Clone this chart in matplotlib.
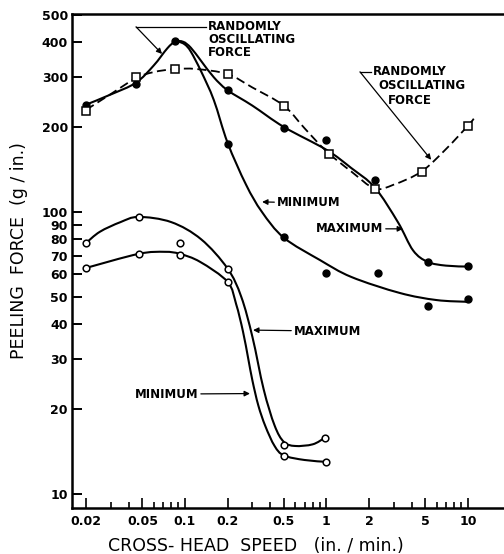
import numpy as np
import matplotlib
matplotlib.use("Agg")
import matplotlib.pyplot as plt
from matplotlib.path import Path
from matplotlib.patches import PathPatch
from matplotlib.ticker import FixedLocator, FixedFormatter, NullFormatter, NullLocator

# measured points: cross-head speed (in./min.) vs peeling force (g/in.)
filled_max_x = [0.02, 0.045, 0.085, 0.2, 0.5, 1.0, 2.2, 5.2, 10]
filled_max_y = [240, 284, 404, 271, 199, 180, 130, 66.5, 64.4]
filled_min_x = [0.2, 0.5, 1.0, 2.3, 5.2, 10]
filled_min_y = [174, 81.5, 60.8, 60.5, 46.4, 49.1]
square_x = [0.02, 0.045, 0.085, 0.2, 0.5, 1.04, 2.2, 4.7, 10]
square_y = [228, 301, 321, 308, 238, 161, 121, 139, 202]
open_max_x = [0.02, 0.047, 0.092, 0.2, 0.5, 0.97]
open_max_y = [77.6, 96, 77.6, 62.8, 14.9, 15.8]
open_min_x = [0.02, 0.047, 0.092, 0.2, 0.5, 1.0]
open_min_y = [63.3, 71, 70.4, 56.5, 13.6, 13.0]

# hand-drawn fitted curves
fit_max_x = [0.02, 0.03, 0.045, 0.06, 0.075, 0.085, 0.097, 0.11, 0.13, 0.16, 0.2,
             0.3, 0.5, 1.0, 1.5, 2.2, 3.2, 4.1, 5.2, 7.0, 10]
fit_max_y = [240, 261, 287, 330, 380, 401, 401, 382, 343, 300, 270,
             238, 200, 166, 143, 122, 92, 73, 66.5, 64.5, 64]
fit_min_x = [0.09, 0.1, 0.11, 0.13, 0.16, 0.2, 0.27, 0.35, 0.5, 0.9,
             1.5, 3.3, 6.0, 10]
fit_min_y = [402, 392, 370, 315, 249, 176, 125, 100, 81, 67.5,
             58.8, 51.6, 48.7, 48]
fit_sq_x = [0.02, 0.03, 0.045, 0.06, 0.085, 0.12, 0.2, 0.3, 0.5, 0.7, 1.0,
            1.5, 2.2, 3.0, 4.7, 7.0, 10, 11]
fit_sq_y = [230, 262, 298, 313, 321, 321, 308, 276, 238, 198, 164,
            139, 121, 125, 139, 167, 202, 214]
fit_omax_x = [0.02, 0.025, 0.035, 0.047, 0.08, 0.13, 0.2, 0.25, 0.3, 0.36,
              0.43, 0.5, 0.6, 0.8, 0.97]
fit_omax_y = [77.6, 85, 92, 96, 92, 80, 63, 50, 36, 23.5,
              17.5, 15.3, 14.8, 15.0, 15.8]
fit_omin_x = [0.02, 0.047, 0.072, 0.092, 0.128, 0.2, 0.23, 0.257, 0.28, 0.3,
              0.33, 0.37, 0.43, 0.5, 0.7, 1.0]
fit_omin_y = [63.3, 71, 72.2, 71, 66.5, 56.5, 47.1, 37.7, 30.2, 25.2,
              20.6, 17.4, 14.8, 13.7, 13.2, 13.0]

x_ticks = [0.02, 0.05, 0.1, 0.2, 0.5, 1, 2, 5, 10]
x_tick_labels = ["0.02", "0.05", "0.1", "0.2", "0.5", "1", "2", "5", "10"]
x_minor = [0.03, 0.04, 0.06, 0.07, 0.08, 0.09, 0.3, 0.4, 0.6, 0.7, 0.8, 0.9,
           3, 4, 6, 7, 8, 9]
y_ticks = [10, 20, 30, 40, 50, 60, 70, 80, 90, 100, 200, 300, 400, 500]


def smooth_curve(ax, xs, ys, **kw):
    # draw the traced curve as a smooth bezier through its points (log space)
    p = np.column_stack([np.log10(xs), np.log10(ys)])
    n = len(p)
    verts = [p[0]]
    codes = [Path.MOVETO]
    for i in range(n - 1):
        a = p[max(i - 1, 0)]
        d = p[min(i + 2, n - 1)]
        verts += [p[i] + (p[i + 1] - a) / 6, p[i + 1] - (d - p[i]) / 6, p[i + 1]]
        codes += [Path.CURVE4] * 3
    verts = 10 ** np.array(verts)
    ax.add_patch(PathPatch(Path(verts, codes), fill=False, **kw))


plt.rcParams["font.family"] = "DejaVu Sans"

fig = plt.figure(figsize=(5.04, 5.54), dpi=100)
ax = fig.add_axes([72 / 504, 46 / 554, 432 / 504, 494 / 554])
ax.set_xscale("log")
ax.set_yscale("log")
ax.set_xlim(0.0159, 18.0)
ax.set_ylim(8.92, 503)

k = "black"
smooth_curve(ax, fit_max_x, fit_max_y, color=k, lw=1.5)
smooth_curve(ax, fit_min_x, fit_min_y, color=k, lw=1.5)
smooth_curve(ax, fit_sq_x, fit_sq_y, color=k, lw=1.3, ls=(0, (5, 2.5)))
smooth_curve(ax, fit_omax_x, fit_omax_y, color=k, lw=1.5)
smooth_curve(ax, fit_omin_x, fit_omin_y, color=k, lw=1.5)

ax.plot(filled_max_x, filled_max_y, "o", color=k, ms=5, zorder=5)
ax.plot(filled_min_x, filled_min_y, "o", color=k, ms=5, zorder=5)
ax.plot(square_x, square_y, "s", mfc="white", mec=k, mew=1.1, ms=5.5, zorder=6)
ax.plot(open_max_x, open_max_y, "o", mfc="white", mec=k, mew=1.1, ms=4.8, zorder=6)
ax.plot(open_min_x, open_min_y, "o", mfc="white", mec=k, mew=1.1, ms=4.8, zorder=6)

# axes styling
for side in ["left", "bottom", "top"]:
    ax.spines[side].set_linewidth(1.8)
ax.spines["right"].set_visible(False)

ax.xaxis.set_major_locator(FixedLocator(x_ticks))
ax.xaxis.set_major_formatter(FixedFormatter(x_tick_labels))
ax.xaxis.set_minor_locator(FixedLocator(x_minor))
ax.xaxis.set_minor_formatter(NullFormatter())
ax.yaxis.set_major_locator(FixedLocator(y_ticks))
ax.yaxis.set_major_formatter(FixedFormatter([str(v) for v in y_ticks]))
ax.yaxis.set_minor_locator(NullLocator())

ax.tick_params(axis="x", which="major", direction="in", length=7, width=1.2,
               pad=5, labelsize=9)
ax.tick_params(axis="x", which="minor", direction="in", length=4, width=1.2)
ax.tick_params(axis="y", which="major", direction="in", length=7, width=1.4,
               pad=3, labelsize=9)
for lab in ax.get_xticklabels() + ax.get_yticklabels():
    lab.set_fontweight("bold")

fig.text(19 / 504, 1 - 251 / 554, "PEELING  FORCE  (g / in.)", rotation=90,
         ha="center", va="center", fontsize=12.5)
fig.text(256 / 504, 1 - 546 / 554, "CROSS- HEAD  SPEED   (in. / min.)",
         ha="center", va="center", fontsize=12.5)

# annotations
arrow = dict(arrowstyle="-|>", color=k, lw=0.9, shrinkA=0, shrinkB=0,
             mutation_scale=8)
txt = dict(fontsize=8.5, fontweight="bold", va="center")

ax.text(0.146, 480, "RANDOMLY\nOSCILLATING\nFORCE", ha="left", linespacing=1.0,
        fontsize=8.5, fontweight="bold", va="top")
ax.plot([0.0451, 0.141], [453, 453], color=k, lw=0.9)
ax.annotate("", xy=(0.0689, 363), xytext=(0.0451, 453), arrowprops=arrow)

ax.text(2.13, 313.7, "RANDOMLY", ha="left", **txt)
ax.text(2.32, 280, "OSCILLATING", ha="left", **txt)
ax.text(2.72, 249, "FORCE", ha="left", **txt)
ax.plot([1.727, 2.07], [313.7, 313.7], color=k, lw=0.9)
ax.annotate("", xy=(5.5, 153), xytext=(1.727, 313.7), arrowprops=arrow)

ax.annotate("MINIMUM", xy=(0.351, 108.5), xytext=(0.448, 107.6), ha="left",
            arrowprops=arrow, **txt)
ax.annotate("MAXIMUM", xy=(3.48, 87.1), xytext=(2.51, 87.1), ha="right",
            arrowprops=arrow, **txt)
ax.annotate("MAXIMUM", xy=(0.303, 38.1), xytext=(0.59, 37.8), ha="left",
            arrowprops=arrow, **txt)
ax.annotate("MINIMUM", xy=(0.288, 22.7), xytext=(0.1238, 22.6), ha="right",
            arrowprops=arrow, **txt)

fig.savefig("out.png", dpi=100)
